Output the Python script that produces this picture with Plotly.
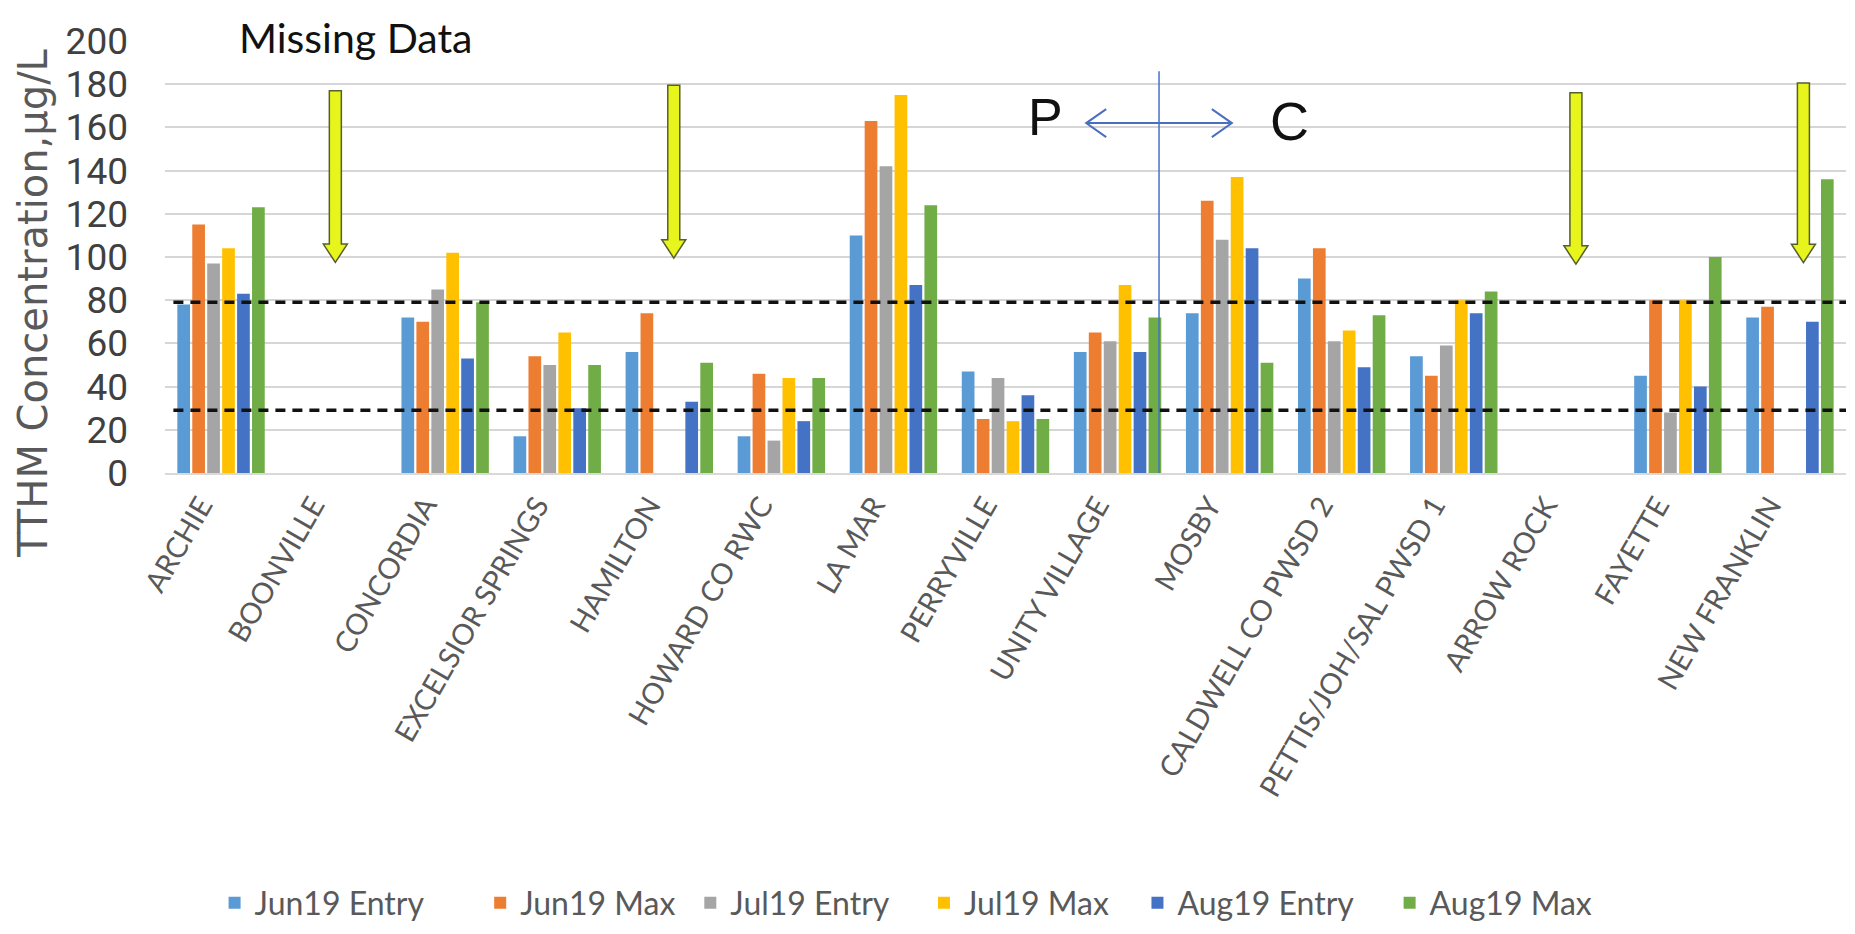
import plotly.graph_objects as go

categories = ["ARCHIE", "BOONVILLE", "CONCORDIA", "EXCELSIOR SPRINGS", "HAMILTON",
              "HOWARD CO RWC", "LA MAR", "PERRYVILLE", "UNITY VILLAGE", "MOSBY",
              "CALDWELL CO PWSD 2", "PETTIS/JOH/SAL PWSD 1", "ARROW ROCK", "FAYETTE",
              "NEW FRANKLIN"]

jun19_entry = [78, None, 72, 17, 56, 17, 110, 47, 56, 74, 90, 54, None, 45, 72]
jun19_max = [115, None, 70, 54, 74, 46, 163, 25, 65, 126, 104, 45, None, 80, 77]
jul19_entry = [97, None, 85, 50, None, 15, 142, 44, 61, 108, 61, 59, None, 28, None]
jul19_max = [104, None, 102, 65, None, 44, 175, 24, 87, 137, 66, 80, None, 80, None]
aug19_entry = [83, None, 53, 30, 33, 24, 87, 36, 56, 104, 49, 74, None, 40, 70]
aug19_max = [123, None, 79, 50, 51, 44, 124, 25, 72, 51, 73, 84, None, 100, 136]

series_names = ["Jun19 Entry", "Jun19 Max", "Jul19 Entry", "Jul19 Max", "Aug19 Entry", "Aug19 Max"]
series_values = [jun19_entry, jun19_max, jul19_entry, jul19_max, aug19_entry, aug19_max]
series_colors = ["#5B9BD5", "#ED7D31", "#A5A5A5", "#FFC000", "#4472C4", "#70AD47"]

y_ticks = [0, 20, 40, 60, 80, 100, 120, 140, 160, 180, 200]
threshold_lines = [79, 29]

# "Missing Data" arrows: (category position, top value, tip value)
missing_arrows = [(1.02, 177, 97.5), (4.04, 179.5, 99.5), (12.09, 176, 96.7), (14.12, 180.5, 97.4)]

# legend entry positions (paper x of each legend box)
legend_x = [0.0295, 0.1875, 0.3125, 0.4515, 0.5785, 0.7285]

fig = go.Figure()
for i, (name, vals, col) in enumerate(zip(series_names, series_values, series_colors)):
    lg = "legend" if i == 0 else f"legend{i + 1}"
    fig.add_trace(go.Bar(x=categories, y=vals, name=name, legend=lg,
                         marker=dict(color=col, line=dict(width=0))))

shapes = []
for yv in threshold_lines:
    shapes.append(dict(type="line", xref="paper", yref="y", x0=0.005, x1=1, y0=yv, y1=yv,
                       line=dict(color="#111111", width=3.5, dash="10px,7px"), layer="above"))

for xc, top, tip in missing_arrows:
    hb = tip + 8.5
    path = (f"M -6,{top} L 6,{top} L 6,{hb} L 12,{hb} L 0,{tip} "
            f"L -12,{hb} L -6,{hb} Z")
    shapes.append(dict(type="path", xref="x", yref="y", xsizemode="pixel", xanchor=xc,
                       path=path, fillcolor="#E8F51C", line=dict(color="#55602a", width=1.5),
                       layer="above"))

# P / C divider and double arrow
shapes.append(dict(type="line", xref="x", yref="y", x0=8.37, x1=8.37, y0=0, y1=186,
                   line=dict(color="#4472C4", width=1.5), layer="above"))
shapes.append(dict(type="line", xref="x", yref="y", x0=7.72, x1=9.02, y0=162, y1=162,
                   line=dict(color="#4A6FC0", width=2), layer="above"))
shapes.append(dict(type="path", xref="x", yref="y", xsizemode="pixel", ysizemode="pixel",
                   xanchor=7.72, yanchor=162, path="M 20,14 L 0,0 L 20,-14",
                   line=dict(color="#4A6FC0", width=2), layer="above"))
shapes.append(dict(type="path", xref="x", yref="y", xsizemode="pixel", ysizemode="pixel",
                   xanchor=9.02, yanchor=162, path="M -20,14 L 0,0 L -20,-14",
                   line=dict(color="#4A6FC0", width=2), layer="above"))

annotations = [
    dict(text="Missing Data", x=1.2, y=1.0085, xref="x", yref="paper", showarrow=False,
         xanchor="center", yanchor="middle",
         font=dict(family="Lato", size=41, color="#111111")),
    dict(text="P", x=7.36, y=165, xref="x", yref="y", showarrow=False,
         font=dict(family="Liberation Sans", size=52, color="#111111")),
    dict(text="C", x=9.53, y=163, xref="x", yref="y", showarrow=False,
         font=dict(family="Liberation Sans", size=54, color="#111111")),
    dict(text="TTHM Concentration,µg/L", x=-0.079, y=0.392, xref="paper", yref="paper",
         showarrow=False, textangle=-90, xanchor="center", yanchor="middle",
         font=dict(family="DejaVu Sans", size=40, color="#595959")),
]

legend_common = dict(orientation="h", y=-0.9955, yanchor="middle", xanchor="left",
                     bgcolor="rgba(0,0,0,0)",
                     font=dict(family="Lato", size=32, color="#595959"))
layout_legends = {}
for i, lx in enumerate(legend_x):
    key = "legend" if i == 0 else f"legend{i + 1}"
    layout_legends[key] = dict(legend_common, x=lx)

fig.update_layout(
    width=1855, height=934,
    margin=dict(l=157, r=17, t=31, b=462),
    paper_bgcolor="white", plot_bgcolor="white",
    barmode="group", bargap=0.2, bargroupgap=0.15,
    shapes=shapes, annotations=annotations,
    showlegend=True,
    font=dict(family="Lato", color="#595959"),
    **layout_legends,
)
fig.update_xaxes(type="category", categoryorder="array", categoryarray=categories,
                 tickangle=-60, tickfont=dict(family="Lato", size=29, color="#595959"),
                 showgrid=False, showline=True, linecolor="#d9d9d9", linewidth=2,
                 ticks="", ticklabelstandoff=2, ticklabelshift=-20)
fig.update_yaxes(range=[0, 200], tickvals=y_ticks, showgrid=True, gridcolor="#d6d6d6",
                 gridwidth=2, zeroline=False, showline=False, ticks="",
                 tickfont=dict(family="Liberation Sans Narrow, Roboto, Lato", size=37, color="#404040"),
                 ticklabelstandoff=36)

fig.write_html("out.html")
